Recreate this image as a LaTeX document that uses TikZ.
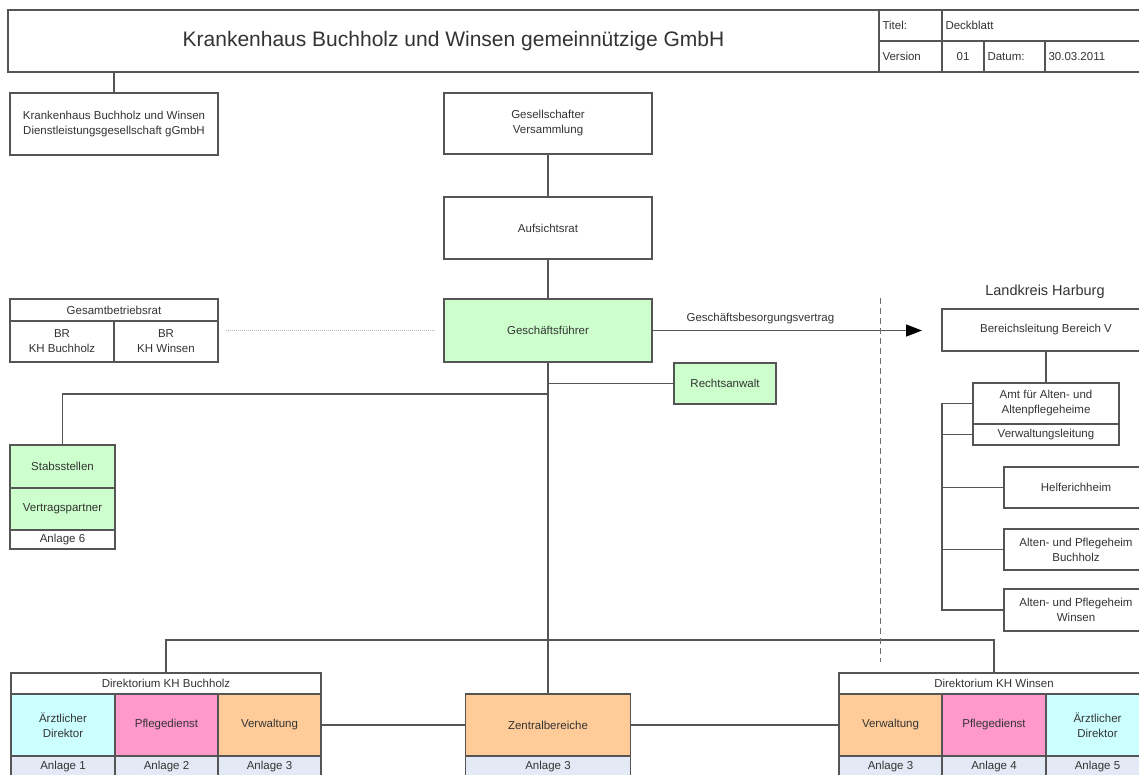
\documentclass[tikz,border=0pt]{standalone}
\usepackage{fontspec}
\setmainfont{Liberation Sans}
\usetikzlibrary{arrows.meta,calc}
\definecolor{txt}{HTML}{333333}
\definecolor{ln}{HTML}{555555}
\definecolor{gr}{HTML}{CCFFCC}
\definecolor{cy}{HTML}{CCFFFF}
\definecolor{pk}{HTML}{FF99CC}
\definecolor{og}{HTML}{FFCC99}
\definecolor{an}{HTML}{E3E9F5}
\begin{document}
\begin{tikzpicture}[x=1pt,y=-1pt,
  every node/.style={text=txt, font=\fontsize{11.5}{15}\selectfont},
  box/.style={draw=ln, line width=1.4pt, rectangle, inner sep=0pt, align=center},
  cell/.style={box, inner xsep=3.5pt, align=left, minimum height=31},
  conn/.style={draw=ln, line width=1.4pt},
  green/.style={fill=gr},
  anl/.style={fill=an},
]
\useasboundingbox (0,0) rectangle (1139,774);
\fill[white] (0,0) rectangle (1139,774);

% header
\node[box, minimum width=871, minimum height=62, font=\fontsize{21}{25}\selectfont] (title) at (443.5,41) {\hspace*{20pt}Krankenhaus Buchholz und Winsen gemeinnützige GmbH};
\node[cell, text width=56] (t1) at (910.5,25.5) {Titel:};
\node[cell, text width=201] (t2) at (1046,25.5) {Deckblatt};
\node[cell, text width=56] (v1) at (910.5,56.5) {Version};
\node[box, minimum width=42, minimum height=31] (v2) at (963,56.5) {01};
\node[cell, text width=54] (v3) at (1014.5,56.5) {Datum:};
\node[cell, text width=98] (v4) at (1097.5,56.5) {30.03.2011};

% upper boxes
\node[box, minimum width=208, minimum height=62] (kbd) at (114,124) {Krankenhaus Buchholz und Winsen\\Dienstleistungsgesellschaft gGmbH};
\node[box, minimum width=208, minimum height=61] (gv) at (548,123.5) {Gesellschafter\\Versammlung};
\node[box, minimum width=208, minimum height=62] (ar) at (548,228) {Aufsichtsrat};
\node[box, green, minimum width=208, minimum height=63] (gf) at (548,330.5) {Geschäftsführer};

% Gesamtbetriebsrat
\node[box, minimum width=208, minimum height=22] (gbr) at (114,310) {Gesamtbetriebsrat};
\node[box, minimum width=104, minimum height=41] (br1) at (62,341.5) {BR\\KH Buchholz};
\node[box, minimum width=104, minimum height=41] (br2) at (166,341.5) {BR\\KH Winsen};

% Rechtsanwalt
\node[box, green, minimum width=102, minimum height=41] (ra) at (725,383.5) {Rechtsanwalt};

% Stabsstellen
\node[box, green, minimum width=105, minimum height=43] (stab) at (62.5,466.5) {Stabsstellen};
\node[box, green, minimum width=105, minimum height=42] (vp) at (62.5,509) {Vertragspartner};
\node[box, minimum width=105, minimum height=19] (an6) at (62.5,539.5) {Anlage 6};

% Direktorium Buchholz
\node[box, minimum width=310, minimum height=21] (dbh) at (166,683.5) {Direktorium KH Buchholz};
\node[box, fill=cy, minimum width=104, minimum height=62] (bad) at (63,725) {Ärztlicher\\Direktor};
\node[box, fill=pk, minimum width=103, minimum height=62] (bpd) at (166.5,725) {Pflegedienst};
\node[box, fill=og, minimum width=103, minimum height=62] (bvw) at (269.5,725) {Verwaltung};
\node[box, anl, minimum width=104, minimum height=21] (ba1) at (63,766.5) {Anlage 1};
\node[box, anl, minimum width=103, minimum height=21] (ba2) at (166.5,766.5) {Anlage 2};
\node[box, anl, minimum width=103, minimum height=21] (ba3) at (269.5,766.5) {Anlage 3};

% Zentralbereiche
\node[box, fill=og, minimum width=165, minimum height=62] (zb) at (548,725) {Zentralbereiche};
\node[box, anl, minimum width=165, minimum height=21] (za3) at (548,766.5) {Anlage 3};

% Direktorium Winsen
\node[box, minimum width=310, minimum height=21] (dwh) at (994,683.5) {Direktorium KH Winsen};
\node[box, fill=og, minimum width=103, minimum height=62] (wvw) at (890.5,725) {Verwaltung};
\node[box, fill=pk, minimum width=104, minimum height=62] (wpd) at (994,725) {Pflegedienst};
\node[box, fill=cy, minimum width=103, minimum height=62] (wad) at (1097.5,725) {Ärztlicher\\Direktor};
\node[box, anl, minimum width=103, minimum height=21] (wa3) at (890.5,766.5) {Anlage 3};
\node[box, anl, minimum width=104, minimum height=21] (wa4) at (994,766.5) {Anlage 4};
\node[box, anl, minimum width=103, minimum height=21] (wa5) at (1097.5,766.5) {Anlage 5};

% Landkreis Harburg
\node[font=\fontsize{14.5}{17}\selectfont] (lkh) at (1045,292) {Landkreis Harburg};
\node[box, minimum width=208, minimum height=42] (bl) at (1046,330) {Bereichsleitung Bereich V};
\node[box, minimum width=146, minimum height=41] (amt) at (1046,403.5) {Amt für Alten- und\\Altenpflegeheime};
\node[box, minimum width=146, minimum height=21] (vl) at (1046,434.5) {Verwaltungsleitung};
\node[box, minimum width=144, minimum height=41] (hh) at (1076,487.5) {Helferichheim};
\node[box, minimum width=144, minimum height=41] (ab) at (1076,549.5) {Alten- und Pflegeheim\\Buchholz};
\node[box, minimum width=144, minimum height=42] (aw) at (1076,610) {Alten- und Pflegeheim\\Winsen};

% coordinates
\coordinate (j1) at (548,394);
\coordinate (hb) at (548,640);
\coordinate (arr) at (922,330.5);
\coordinate (dtop) at (880,298);
\coordinate (dbot) at (880,662);
\coordinate (busx) at (942,403.5);

% connectors
\draw[conn] (kbd.north) -- (kbd.north |- title.south);
\draw[conn] (gv.south) -- (ar.north);
\draw[conn] (ar.south) -- (gf.north);
\draw[conn] (gf.south) -- (zb.north);
\draw[conn] (ra.west) -- (ra.west -| gf.south);
\draw[conn] (stab.north) |- (j1);
\draw[conn] (dbh.north) |- (hb) -| (dwh.north);
\draw[conn] (bvw.east) -- (zb.west);
\draw[conn] (zb.east) -- (wvw.west);
\draw[draw=gray!55, line width=0.8pt, dash pattern=on 1pt off 1pt, shorten <=8pt, shorten >=7pt] (gf.west) -- (gf.west -| br2.east);
\draw[conn, -{Triangle[length=16pt,width=12pt,fill=black,color=black]}] (gf.east) -- node[pos=0.4, above=3pt] {Geschäftsbesorgungsvertrag} (arr);
\draw[draw=ln!85, line width=1pt, dash pattern=on 6pt off 4pt] (dtop) -- (dbot);
\draw[conn] (bl.south) -- (amt.north);
\draw[conn] (amt.west) -- (busx) |- (aw.west);
\draw[conn] (busx |- vl.west) -- (vl.west);
\draw[conn] (busx |- hh.west) -- (hh.west);
\draw[conn] (busx |- ab.west) -- (ab.west);
\end{tikzpicture}
\end{document}
